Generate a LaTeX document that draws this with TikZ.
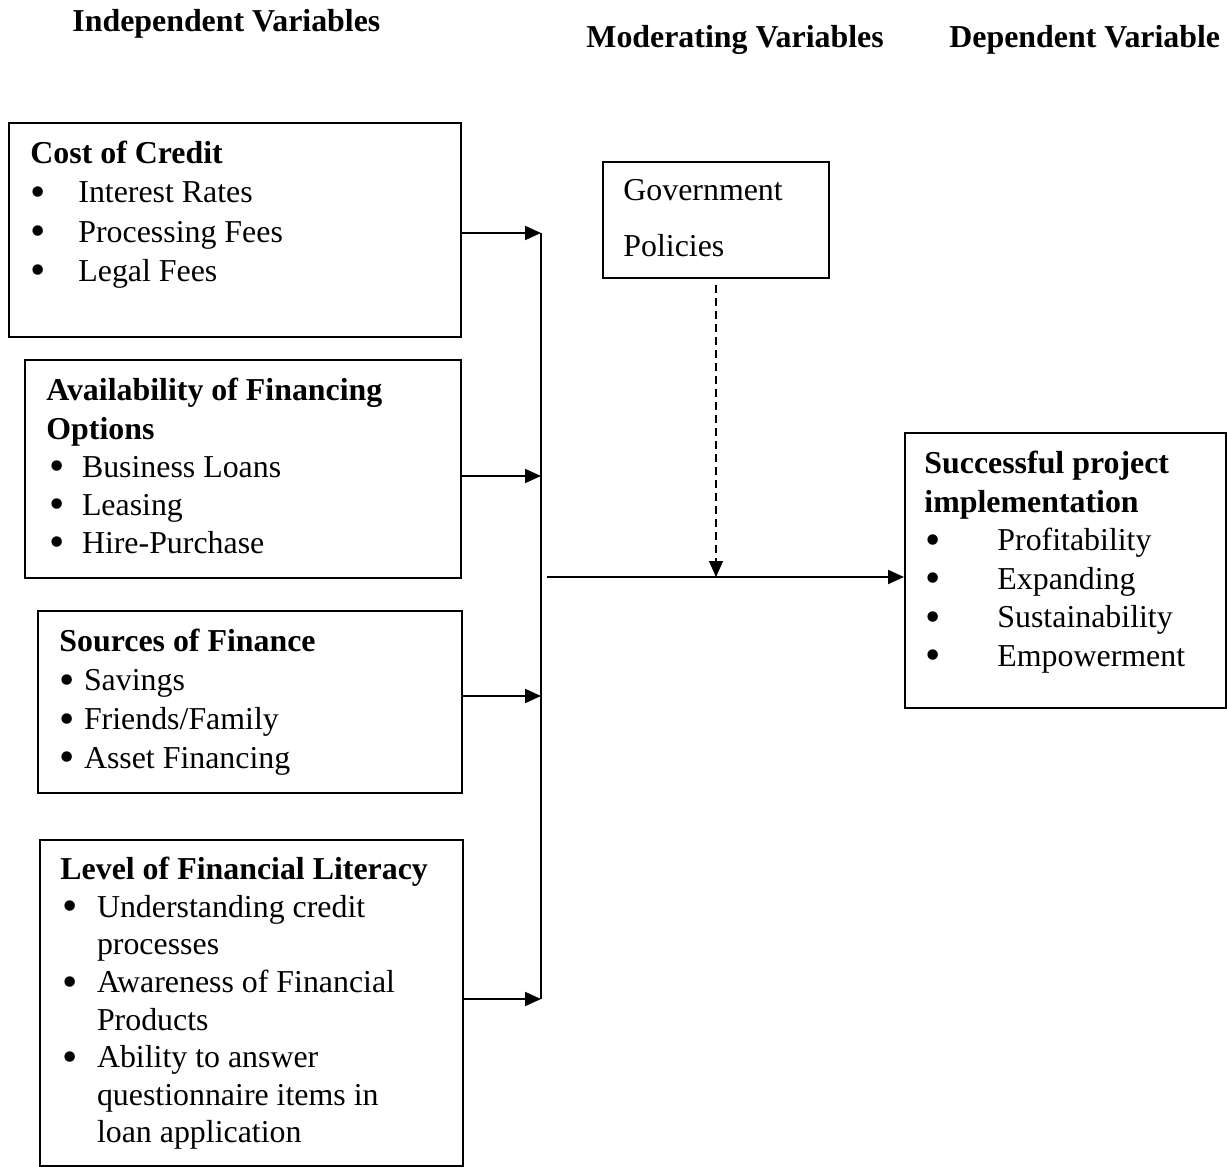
\documentclass[tikz,border=0pt]{standalone}
\usepackage{fontspec}
\setmainfont{Liberation Serif}
\usepackage{graphicx}
\usepackage{tikz}
\usetikzlibrary{arrows.meta}

\newcommand{\bul}[1]{\makebox[#1][l]{\smash{\raisebox{-0.11em}{\scalebox{1.37}{\textbullet}}}}}

\begin{document}
\begin{tikzpicture}[x=0.5bp,y=-0.5bp,
    box/.style={draw,line width=1pt,anchor=north west,inner sep=0pt},
    txt/.style={anchor=north west,align=left,inner sep=0pt,font=\fontsize{16}{19.4}\selectfont},
    hdr/.style={anchor=base west,inner sep=0pt,font=\fontsize{16}{19.4}\selectfont\bfseries},
    arr/.style={-{Triangle[length=8bp,width=7bp]},line width=1pt}]

    \useasboundingbox (0,0) rectangle (1227,1167);

    % column headings
    \node[hdr] (indep) at (72,32) {Independent Variables};
    \node[hdr] (moder) at (586,48) {Moderating Variables};
    \node[hdr] (depen) at (949,48) {Dependent Variable};

    % boxes
    \node[box,minimum width=226bp,minimum height=107bp] (cost) at (8,122) {};
    \node[box,minimum width=218bp,minimum height=109bp] (avail) at (24,359) {};
    \node[box,minimum width=212bp,minimum height=91bp] (src) at (37,610) {};
    \node[box,minimum width=211.5bp,minimum height=163bp] (lit) at (39,839) {};
    \node[box,minimum width=113bp,minimum height=58bp] (gov) at (602,161) {};
    \node[box,minimum width=160.5bp,minimum height=137.5bp] (succ) at (904,432) {};

    % box texts
    \node[txt,font=\fontsize{16}{19.65}\selectfont] (costtxt) at (30,141) {\textbf{Cost of Credit}\\
        \bul{24bp}Interest Rates\\ \bul{24bp}Processing Fees\\ \bul{24bp}Legal Fees};
    \node[txt,font=\fontsize{16}{19.15}\selectfont] (availtxt) at (46,378) {\textbf{Availability of Financing}\\ \textbf{Options}\\
        \hspace*{1.5bp}\bul{16.3bp}Business Loans\\ \hspace*{1.5bp}\bul{16.3bp}Leasing\\ \hspace*{1.5bp}\bul{16.3bp}Hire-Purchase};
    \node[txt,font=\fontsize{16}{19.5}\selectfont] (srctxt) at (59,629) {\textbf{Sources of Finance}\\
        \bul{12.3bp}Savings\\ \bul{12.3bp}Friends/Family\\ \bul{12.3bp}Asset Financing};
    \node[txt,font=\fontsize{16}{18.85}\selectfont] (littxt) at (60,857) {\textbf{Level of Financial Literacy}\\
        \hspace*{1bp}\bul{17.3bp}Understanding credit\\ \hspace*{18.3bp}processes\\
        \hspace*{1bp}\bul{17.3bp}Awareness of Financial\\ \hspace*{18.3bp}Products\\
        \hspace*{1bp}\bul{17.3bp}Ability to answer\\ \hspace*{18.3bp}questionnaire items in\\ \hspace*{18.3bp}loan application};
    \node[txt,font=\fontsize{16}{28}\selectfont] (govtxt) at (623,179) {Government\\ Policies};
    \node[txt,font=\fontsize{16}{19.3}\selectfont] (succtxt) at (924,451) {\textbf{Successful project}\\ \textbf{implementation}\\
        \hspace*{0.7bp}\bul{35.8bp}Profitability\\ \hspace*{0.7bp}\bul{35.8bp}Expanding\\
        \hspace*{0.7bp}\bul{35.8bp}Sustainability\\ \hspace*{0.7bp}\bul{35.8bp}Empowerment};

    % connectors
    \coordinate (bus) at (541,0);
    \coordinate (hstart) at (547,577);
    \coordinate (join) at (714,577);
    \draw[arr] ([yshift=-1.5bp]cost.east) -- ([yshift=-1.5bp]cost.east -| bus);
    \draw[arr] ([yshift=-3.5bp]avail.east) -- ([yshift=-3.5bp]avail.east -| bus);
    \draw[arr] ([yshift=3bp]src.east) -- ([yshift=3bp]src.east -| bus);
    \draw[arr] ([yshift=2bp]lit.east) -- ([yshift=2bp]lit.east -| bus);
    \draw[line width=1pt] ([yshift=-1.5bp]cost.east -| bus) -- ([yshift=2bp]lit.east -| bus);
    \draw[arr] (hstart) -- (join -| succ.west);
    \draw[arr,line width=0.7pt,dash pattern=on 4bp off 2.5bp] ([yshift=-3bp]gov.south) -- (gov.south |- join);
\end{tikzpicture}
\end{document}
